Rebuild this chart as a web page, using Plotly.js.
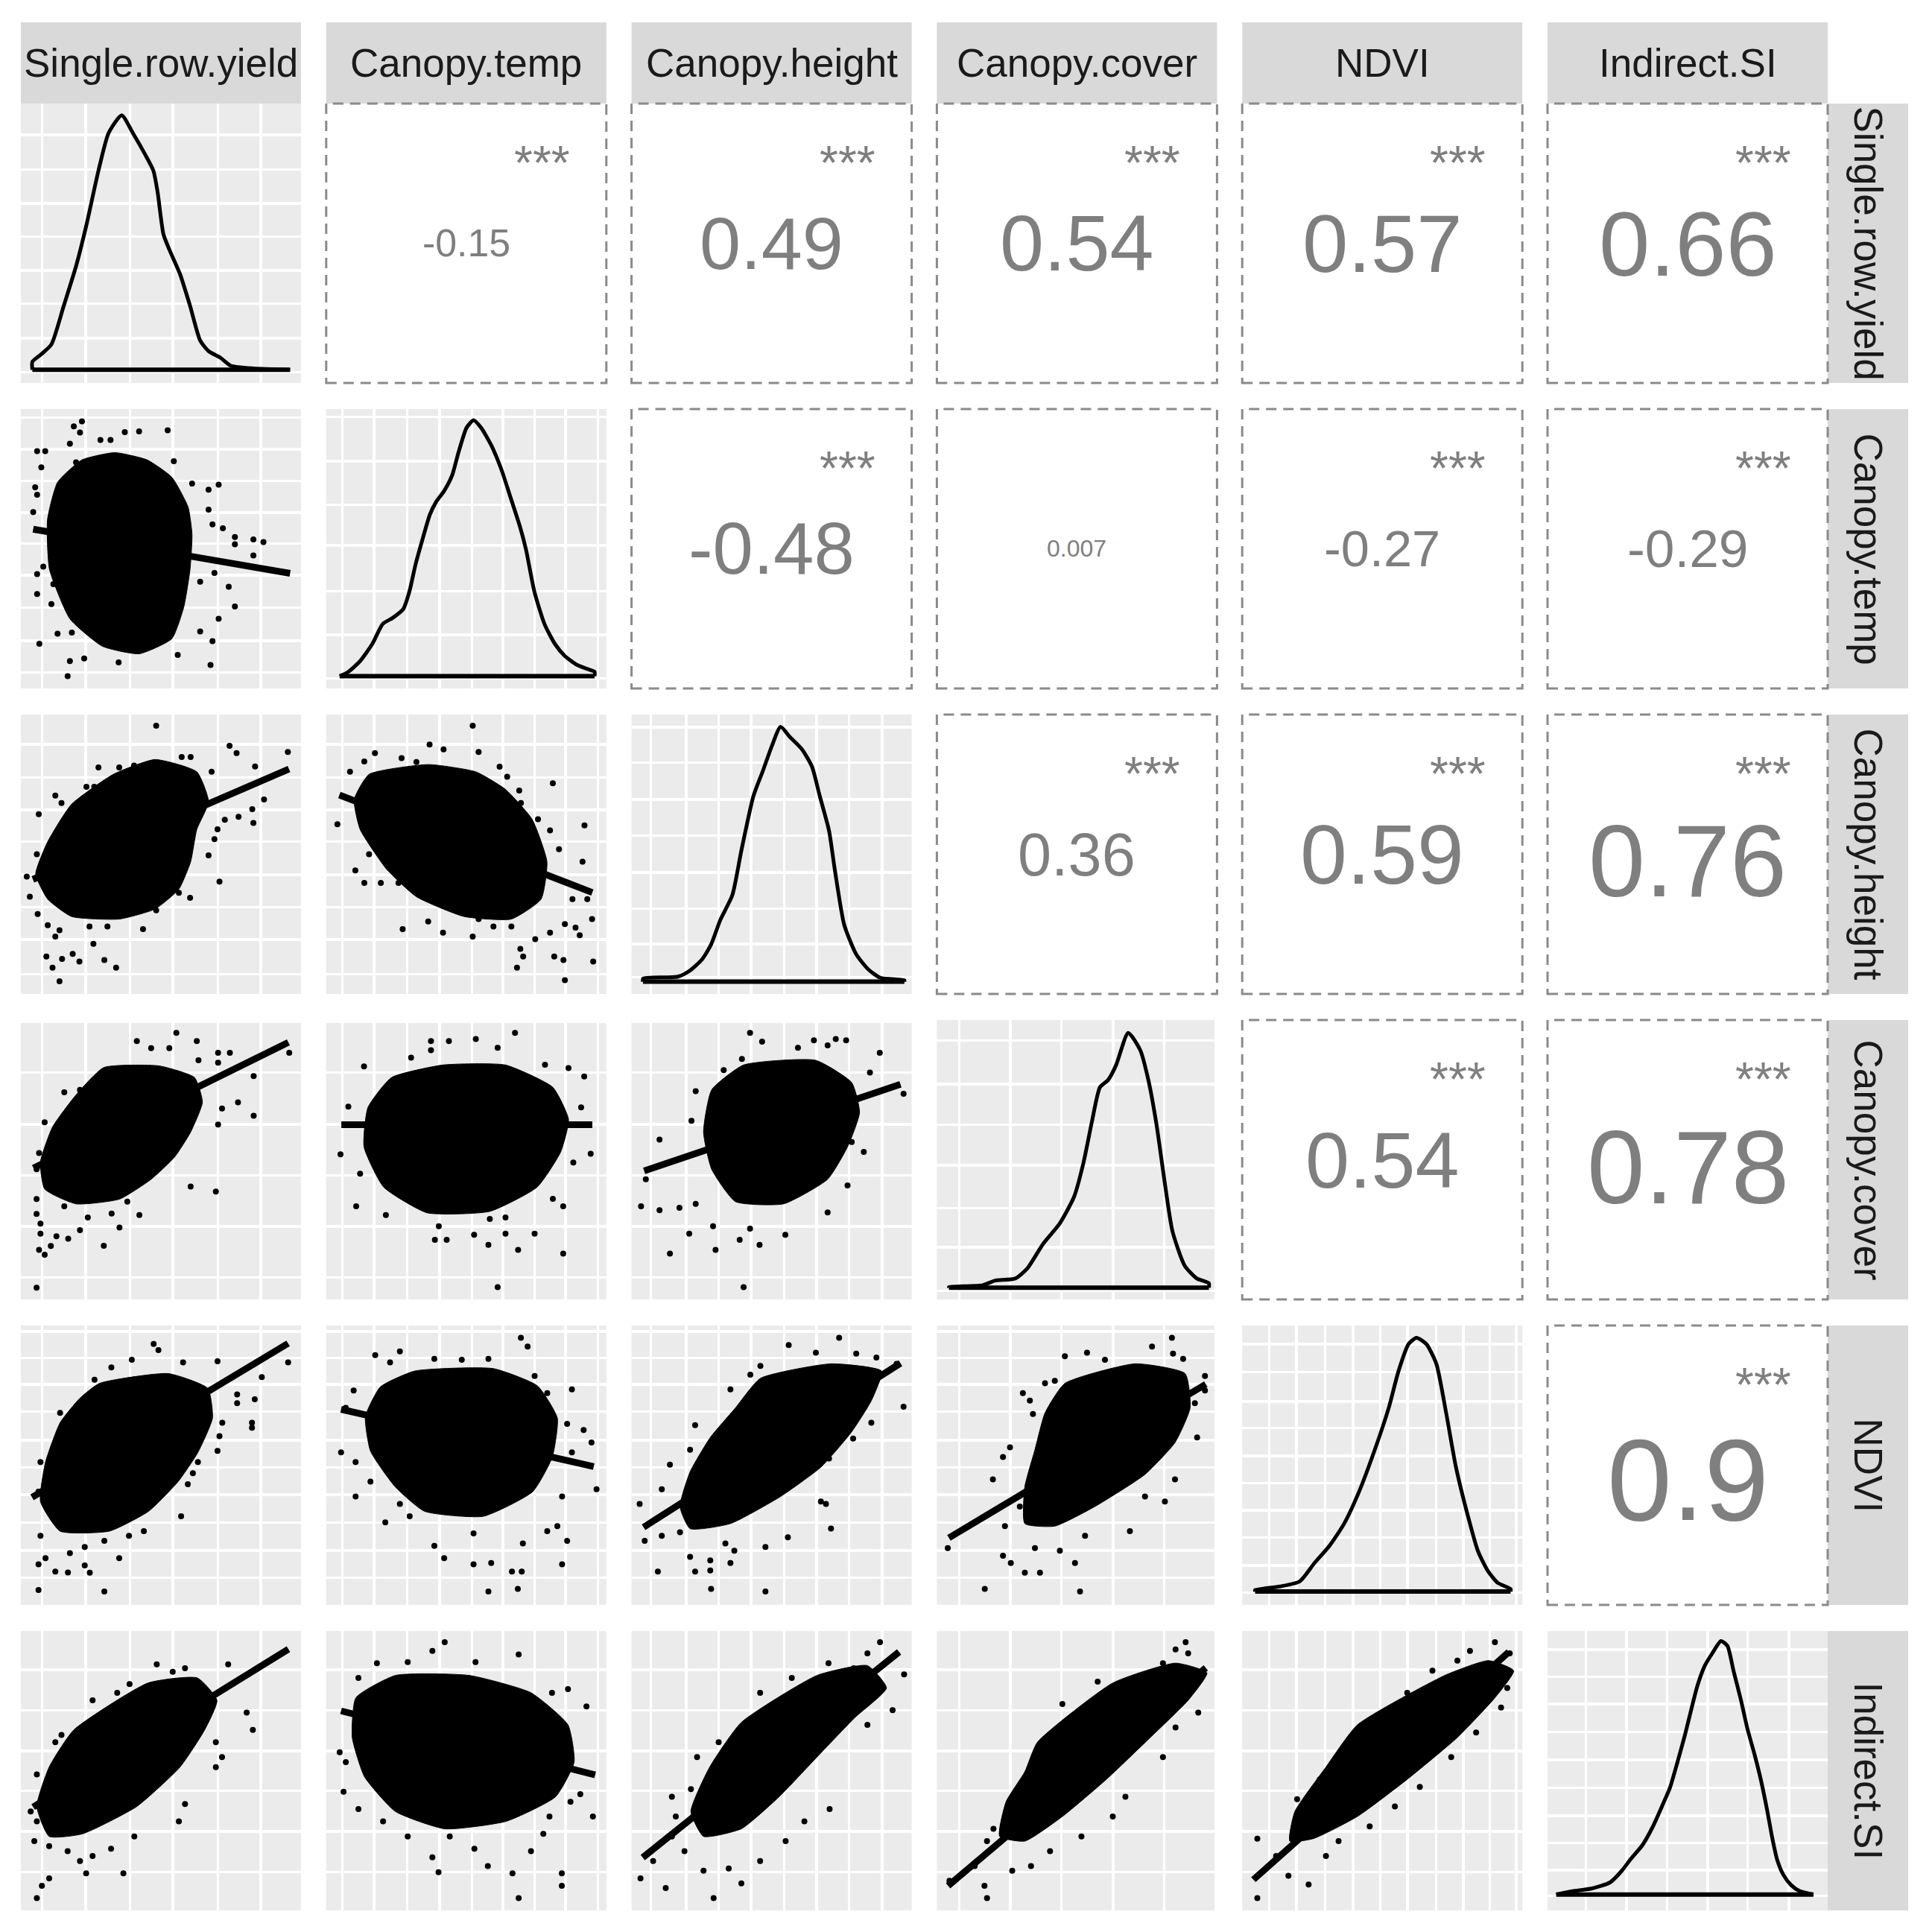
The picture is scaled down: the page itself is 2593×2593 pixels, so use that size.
<!DOCTYPE html>
<html>
<head>
<meta charset="utf-8">
<script src="https://cdn.plot.ly/plotly-3.0.1.min.js"></script>
<style>
  html, body { margin: 0; padding: 0; background: #fff; }
  #pairs { width: 2593px; height: 2593px; }
</style>
</head>
<body>
<div id="pairs"></div>
<script>
// variable names, in matrix order
var varNames = ['Single.row.yield', 'Canopy.temp', 'Canopy.height', 'Canopy.cover', 'NDVI', 'Indirect.SI'];

// upper triangle: correlation labels, row by row
var corrRow = [0, 0, 0, 0, 0, 1, 1, 1, 1, 2, 2, 2, 3, 3, 4];
var corrCol = [1, 2, 3, 4, 5, 2, 3, 4, 5, 3, 4, 5, 4, 5, 5];
var corrVal = [-0.15, 0.49, 0.54, 0.57, 0.66, -0.48, 0.007, -0.27, -0.29, 0.36, 0.59, 0.76, 0.54, 0.78, 0.9];
var corrStars = ['***', '***', '***', '***', '***', '***', '', '***', '***', '***', '***', '***', '***', '***', '***'];

// grid breaks of each variable (percent of panel width / height)
var gridYield = [7.5, 23.1, 38.9, 54.2, 70.3, 85.6];
var gridTemp = [5.8, 17.2, 29, 40.5, 52, 63, 74.4, 85.5, 96.9];
var gridHeight = [7, 19.4, 31, 42.6, 54.5, 66, 77.6, 89.4];
var gridCover = [7.9, 26.2, 44.5, 62.8, 81.2, 99.5];
var gridNdvi = [9.7, 19.4, 29.5, 39.6, 49.3, 59.0, 69.2, 78.9, 88.5, 97.8];
var gridSi = [13.7, 28.2, 42.7, 57.1, 71.5, 86.2];

// density panels: y grid breaks
var dgridYield = [3.8, 15.9, 28.4, 40.3, 52.5, 64.4, 76.3, 88.9];
var dgridTemp = [3.6, 19.1, 34.7, 51.1, 65.8, 81.3, 97.1];
var dgridHeight = [6, 18, 30.6, 43.4, 56.6, 69.5, 82.7, 95.6];
var dgridCover = [3.1, 18.6, 32.8, 47.9, 62.5, 77, 92.7];
var dgridNdvi = [4.4, 14.1, 24.2, 33.9, 43.6, 53.3, 63.4, 72.7, 83.3, 93.4];
var dgridSi = [5.1, 14.4, 24.2, 34.0, 43.9, 53.8, 63.9, 73.8, 83.5, 93.3];

// density curves
var densYieldX = [4.1, 4.1, 7.3, 10.9, 15.3, 19.7, 23.3, 27.7, 31.3, 36.0, 40.0, 44.4, 47.3, 48.8, 50.9, 53.1, 56.8, 60.4, 64.0, 67.0, 71.3, 74.9, 83.0, 96.1];
var densYieldY = [4.75, 7.6, 10.3, 13.8, 27.6, 41.8, 56.1, 76.0, 89.4, 95.8, 89.4, 81.7, 76.0, 68.4, 53.2, 47.5, 39.0, 27.6, 15.2, 11.4, 9.0, 6.2, 5.2, 4.75];
var densTempX = [4.8, 7.7, 12.1, 16.5, 20.2, 23.8, 27.5, 29.7, 31.9, 34.1, 37.0, 39.2, 42.1, 45.0, 47.2, 50.1, 52.6, 55.3, 58.9, 62.6, 65.5, 69.2, 71.3, 74.3, 77.9, 81.6, 85.2, 89.6, 94.0, 95.8, 95.8];
var densTempY = [4.4, 5.8, 9.8, 16.0, 23.1, 25.3, 28.4, 34.7, 44.4, 52.4, 62.2, 66.7, 70.7, 76.4, 84.4, 93.3, 96.0, 93.3, 87.1, 78.2, 69.3, 57.8, 49.8, 34.7, 23.1, 16.0, 11.6, 8.4, 6.7, 6.0, 4.4];
var densHeightX = [4.1, 4.1, 16.6, 20.9, 25.2, 28.4, 31.7, 36.0, 39.2, 43.5, 46.8, 50.0, 53.2, 56.5, 60.8, 64.4, 67.2, 70.5, 72.6, 75.9, 80.2, 84.5, 88.8, 97.4, 97.4];
var densHeightY = [4.4, 5.5, 6.2, 8.4, 12.4, 17.7, 26.5, 35.4, 51.3, 70.8, 79.6, 88.5, 95.6, 92.0, 87.6, 81.4, 70.8, 58.4, 44.2, 24.8, 14.2, 8.8, 5.8, 4.9, 4.4];
var densCoverX = [4.3, 4.3, 16.4, 20.7, 28.0, 32.3, 38.0, 43.8, 49.0, 52.4, 55.3, 58.2, 61.1, 64.0, 68.3, 72.6, 75.5, 78.4, 81.3, 84.1, 88.5, 92.8, 97.1, 97.1];
var densCoverY = [4.2, 4.4, 5.1, 6.7, 7.5, 11.1, 20.0, 27.1, 36.8, 49.2, 63.4, 75.9, 78.5, 83.9, 95.4, 89.2, 78.5, 62.6, 42.1, 24.4, 12.0, 7.5, 5.8, 4.2];
var densNdviX = [4.6, 4.6, 13.4, 20.5, 25.8, 31.1, 36.4, 41.7, 47.0, 52.3, 55.8, 59.4, 62.2, 65.7, 69.3, 72.8, 76.3, 80.6, 84.1, 87.6, 91.2, 95.8, 95.8];
var densNdviY = [4.8, 5.3, 6.6, 8.4, 15.0, 21.1, 29.1, 40.5, 54.6, 70.5, 83.7, 93.4, 95.6, 93.4, 86.3, 68.7, 49.3, 31.7, 19.4, 12.3, 7.9, 5.7, 4.8];
var densSiX = [3.1, 8.9, 15.6, 22.3, 26.7, 29.4, 33.9, 37.4, 41.0, 43.7, 46.3, 49.0, 51.2, 53.5, 56.1, 58.8, 61.9, 64.2, 66.4, 69.1, 71.3, 74.0, 76.2, 78.4, 80.2, 82.0, 84.2, 86.9, 90.0, 94.9];
var densSiY = [5.7, 6.9, 7.8, 10.0, 14.4, 18.0, 23.4, 29.6, 37.6, 43.9, 52.8, 62.6, 71.5, 80.4, 87.5, 92.0, 96.4, 94.7, 85.7, 75.0, 65.2, 55.4, 46.5, 35.8, 26.0, 18.0, 12.7, 9.1, 6.9, 5.7];

// scatter panels: dense core outline, stray points, fitted line (x,y pairs)
var s21Core = [33.5,84.4, 45.1,81.8, 53.9,75.6, 59.7,64.9, 61.1,55.1, 60.4,42.7, 58.2,29.3, 53.9,17.8, 42.2,12.4, 29.1,15.1, 17.5,24.9, 10.2,42.7, 9.5,60.4, 13.1,73.8, 21.8,81.8];
var s21Pts = [21.8,95.6, 18.9,93.8, 21.1,91.6, 17.5,87.6, 28.4,88.9, 32.0,88.9, 37.1,91.7, 42.2,92.0, 52.4,92.4, 5.8,84.9, 8.7,84.9, 7.3,79.1, 19.7,80.9, 54.6,81.3, 36.4,82.7, 61.1,73.3, 67.0,71.1, 70.6,72.9, 5.1,72.0, 4.4,63.1, 5.8,69.3, 67.0,64.0, 68.4,58.7, 72.1,57.3, 76.4,54.2, 83.0,53.3, 86.6,52.4, 76.4,51.6, 83.0,47.6, 69.1,41.3, 64.0,38.2, 74.2,36.4, 5.8,40.9, 8.0,43.6, 5.8,33.8, 11.6,37.3, 10.9,30.2, 76.4,29.3, 70.6,24.9, 64.0,20.4, 68.4,16.9, 67.7,8.4, 17.5,9.8, 22.6,10.7, 34.9,9.3, 56.0,12.0, 16.7,4.4, 6.6,16.0, 13.1,19.6, 18.2,20.0, 24.0,20.9];
var s21Fit = [4.4,57.0, 96.1,41.2];

var s31Core = [47.9,83.9, 62.8,79.5, 67.0,68.8, 62.8,58.9, 60.6,47.3, 56.4,37.5, 47.9,30.4, 35.1,26.8, 18.1,27.7, 9.6,33.9, 5.3,42.9, 9.6,54.5, 18.1,67.9, 33.0,78.6];
var s31Pts = [48.3,96.0, 74.5,88.8, 77.0,86.2, 95.3,86.6, 83.6,81.4, 68.1,79.5, 57.4,84.8, 60.6,84.8, 27.7,81.1, 35.1,81.1, 40.4,81.7, 23.4,74.1, 26.2,74.1, 12.3,71.0, 14.5,68.3, 6.4,64.3, 86.8,69.6, 82.6,66.1, 77.7,63.4, 83.0,61.2, 72.8,62.3, 70.2,58.9, 69.1,55.4, 67.0,49.6, 70.9,40.2, 60.4,34.4, 56.4,36.2, 48.3,29.9, 43.6,23.2, 30.9,24.1, 24.5,24.1, 13.8,22.8, 12.3,20.5, 9.6,24.6, 6.0,28.6, 5.7,50.0, 3.2,34.8, 9.1,13.4, 11.3,9.4, 14.7,12.5, 18.5,14.3, 20.9,11.6, 29.8,12.1, 34.0,9.4, 25.9,17.9, 13.8,4.5, 2.1,42.0];
var s31Fit = [4.3,41.0, 95.7,80.5];

var s32Core = [15.3,78.6, 36.4,82.1, 53.4,79.5, 64.0,73.2, 73.5,62.5, 78.8,47.3, 76.7,33.9, 66.1,26.8, 49.2,27.7, 32.2,34.8, 21.6,44.6, 12.1,58.9, 10.0,69.6];
var s32Pts = [52.3,96.0, 36.9,89.3, 41.9,87.5, 54.4,86.6, 17.4,86.2, 13.6,83.2, 8.5,79.5, 26.9,84.4, 32.2,83.0, 61.9,81.3, 64.6,77.7, 80.9,75.4, 68.9,72.8, 69.5,68.3, 75.6,62.5, 92.2,60.3, 79.9,58.5, 91.5,47.3, 83.1,51.8, 4.0,60.7, 10.4,44.2, 13.6,39.7, 19.5,39.7, 25.8,39.7, 15.3,50.0, 93.2,33.9, 87.9,33.9, 94.9,26.8, 85.2,25.0, 90.5,21.0, 89.0,23.7, 79.9,21.9, 74.6,19.6, 69.3,16.1, 68.1,9.4, 70.3,13.4, 81.4,13.4, 84.7,12.1, 95.3,11.6, 85.2,4.9, 52.3,20.5, 41.7,21.9, 27.3,23.2, 36.4,25.9, 54.4,26.8, 59.7,24.1, 66.1,24.1];
var s32Fit = [4.7,71.2, 95.0,36.3];

var s41Core = [29.6,83.0, 49.3,83.6, 62.0,79.4, 64.8,70.6, 60.6,59.9, 54.9,51.0, 46.5,43.0, 35.2,35.9, 19.7,34.2, 8.5,39.5, 7.0,49.2, 11.3,61.7, 19.7,73.2];
var s41Pts = [55.5,95.4, 41.4,92.5, 53.0,89.9, 62.8,92.5, 46.5,89.9, 70.4,88.3, 74.6,88.3, 63.4,85.6, 70.4,84.7, 83.1,79.9, 95.8,88.3, 77.5,70.5, 83.1,65.7, 71.8,68.3, 70.4,62.6, 60.6,40.4, 69.6,38.6, 15.5,74.1, 21.1,75.0, 8.5,63.4, 6.5,52.4, 5.6,46.6, 5.6,35.9, 5.6,30.6, 7.0,27.1, 7.0,23.5, 12.7,22.6, 16.9,21.7, 21.1,24.8, 29.6,19.2, 35.2,25.7, 23.9,29.3, 42.3,30.2, 32.4,30.7, 6.5,17.7, 8.5,16.0, 5.6,4.2, 10.7,19.1, 15.5,33.3, 38.0,35.0];
var s41Fit = [4.5,47.0, 95.5,92.0];

var s42Core = [41.6,83.9, 64.0,83.9, 80.9,75.9, 86.5,64.4, 83.7,52.8, 75.3,40.2, 58.4,31.5, 36.0,31.0, 20.5,40.2, 13.5,54.6, 14.9,68.7, 23.3,79.4];
var s42Pts = [67.4,95.4, 37.4,92.5, 43.8,92.5, 53.4,93.2, 61.2,90.1, 37.4,89.2, 30.3,86.5, 78.1,84.0, 86.5,82.8, 92.1,79.8, 13.5,83.4, 7.9,69.0, 5.1,51.9, 94.4,52.1, 91.0,68.7, 88.2,49.0, 84.6,33.3, 84.6,16.4, 68.5,17.7, 57.9,19.5, 38.8,21.3, 43.0,21.3, 52.8,23.1, 64.0,23.5, 74.4,23.5, 40.2,26.2, 10.7,33.3, 21.3,30.2, 33.1,34.2, 58.4,28.8, 64.0,29.3, 80.9,36.0, 12.1,45.0, 61.2,4.4];
var s42Fit = [5.4,62.5, 95.0,62.5];

var s43Core = [40.0,83.9, 65.7,85.6, 78.6,77.6, 81.4,66.9, 77.1,54.6, 70.0,43.0, 54.3,34.2, 37.1,35.0, 28.6,46.6, 25.7,59.9, 28.6,75.0];
var s43Pts = [42.3,95.4, 46.6,92.3, 65.1,92.7, 72.9,93.2, 76.6,92.7, 59.4,90.1, 70.0,90.9, 39.4,86.1, 32.9,82.1, 88.6,88.3, 85.1,81.2, 22.9,74.5, 21.4,63.9, 10.0,57.2, 5.1,43.0, 3.4,33.3, 10.0,31.9, 17.1,32.8, 22.9,34.2, 29.1,26.2, 20.6,23.5, 30.0,17.7, 38.6,21.3, 45.7,19.5, 42.3,25.3, 54.9,23.1, 70.0,31.1, 77.1,40.8, 82.9,52.8, 97.1,73.6, 13.7,16.4, 40.0,4.4, 78.6,56.3];
var s43Fit = [4.5,46.0, 96.0,77.0];

var s51Core = [28.1,79.3, 52.6,82.8, 66.7,77.5, 68.4,66.9, 63.2,54.6, 56.1,44.1, 45.6,33.5, 31.6,26.4, 14.0,26.4, 7.0,37.0, 8.8,51.1, 14.0,65.2, 21.1,74.0];
var s51Pts = [47.4,93.4, 49.1,91.2, 39.6,87.7, 32.3,85.0, 57.9,86.8, 70.2,87.2, 95.4,86.8, 86.0,81.5, 26.3,80.6, 77.2,75.3, 83.5,73.6, 77.2,72.2, 14.0,68.7, 71.9,65.2, 82.5,65.2, 82.5,63.4, 70.9,60.4, 70.2,55.1, 63.2,51.1, 61.4,47.1, 59.6,43.2, 7.0,51.1, 6.3,40.5, 57.2,31.7, 43.9,26.4, 38.6,24.7, 29.8,22.9, 22.8,20.7, 17.5,18.5, 8.8,16.7, 6.3,14.5, 12.3,11.9, 16.8,11.6, 24.6,11.5, 22.8,14.1, 35.1,16.7, 6.3,5.3, 29.8,4.8, 7.0,24.7];
var s51Fit = [4.0,38.5, 95.4,93.6];

var s52Core = [31.6,83.7, 59.6,84.6, 75.4,78.4, 82.5,66.9, 80.7,52.9, 73.7,40.5, 56.1,31.7, 35.1,33.5, 24.6,42.3, 15.8,55.1, 14.0,67.4, 19.3,78.0];
var s52Pts = [69.5,95.6, 71.9,92.5, 26.3,90.7, 17.5,89.4, 22.8,86.8, 38.6,88.1, 48.4,87.7, 57.9,88.1, 74.4,81.9, 87.7,77.1, 9.8,76.7, 7.0,70.5, 78.9,75.8, 86.0,64.8, 91.9,62.6, 94.7,58.1, 87.7,54.6, 96.5,41.4, 84.2,38.8, 5.3,54.6, 10.5,51.1, 15.8,44.1, 10.5,38.8, 21.1,29.5, 26.3,36.1, 29.8,31.7, 38.6,21.1, 42.1,16.7, 52.6,14.5, 58.9,15.0, 66.3,11.9, 69.8,11.9, 84.2,14.5, 86.0,22.9, 70.2,22.0, 78.9,26.4, 57.9,4.8, 68.4,5.7, 82.5,28.2, 52.6,25.6];
var s52Fit = [5.3,70.0, 95.5,49.5];

var s53Core = [46.0,81.1, 71.2,86.3, 89.2,83.7, 85.6,73.1, 78.4,61.7, 67.6,49.3, 53.2,38.8, 35.3,29.1, 20.9,27.3, 17.3,35.2, 20.9,47.6, 28.1,59.9, 37.1,70.5];
var s53Pts = [74.1,95.6, 56.1,93.0, 65.8,90.3, 80.2,89.9, 87.4,88.5, 94.6,86.3, 46.0,85.5, 42.4,82.4, 35.3,77.1, 97.1,70.9, 85.6,65.2, 79.1,59.5, 22.7,64.3, 20.9,55.5, 13.7,50.2, 10.8,41.4, 70.5,52.4, 67.6,37.0, 69.4,36.1, 71.2,27.3, 55.8,24.2, 47.8,20.7, 36.7,19.4, 33.5,22.0, 17.3,26.0, 10.8,24.7, 4.7,22.9, 20.9,17.2, 28.1,15.9, 35.3,15.0, 9.4,11.9, 22.7,11.9, 28.1,12.3, 28.4,5.7, 47.8,4.8, 2.9,36.1];
var s53Fit = [4.3,27.8, 96.0,86.5];

var s54Core = [45.7,79.3, 70.7,86.3, 88.6,82.8, 90.4,70.5, 85.0,58.1, 74.3,46.7, 56.4,35.2, 42.1,28.2, 31.4,29.1, 31.4,42.3, 35.0,55.5, 38.6,68.7];
var s54Pts = [83.9,95.6, 76.8,92.5, 53.6,90.3, 84.3,89.9, 87.9,88.1, 45.7,89.0, 60.0,87.7, 38.6,79.3, 30.7,75.8, 33.2,73.1, 42.1,80.2, 95.7,81.9, 95.7,76.7, 92.1,72.2, 92.9,59.9, 34.3,68.3, 26.1,56.4, 23.6,52.9, 20.0,44.9, 29.6,35.2, 74.3,38.8, 85.0,44.9, 81.4,37.0, 68.9,26.4, 52.9,24.7, 43.9,19.4, 35.0,20.3, 23.6,17.6, 26.4,15.0, 31.4,11.5, 36.8,11.5, 49.3,15.0, 17.1,5.7, 51.1,4.8, 3.9,20.3, 24.3,28.2];
var s54Fit = [4.3,24.0, 96.0,79.0];

var s61Core = [18.9,64.6, 45.4,81.4, 63.0,83.2, 70.0,75.2, 65.6,64.6, 56.8,51.3, 41.4,37.2, 22.0,27.4, 10.1,26.5, 5.7,37.2, 10.1,51.3];
var s61Pts = [48.5,88.1, 54.2,85.4, 74.0,88.1, 58.6,86.7, 38.8,81.0, 34.4,77.9, 25.6,75.2, 80.6,70.8, 82.8,64.6, 69.6,60.2, 71.8,54.9, 69.6,51.3, 58.6,38.1, 56.4,31.9, 14.5,62.8, 12.3,60.2, 5.7,48.7, 3.5,35.4, 5.7,31.9, 4.8,24.8, 10.1,23.0, 16.7,21.2, 21.1,17.7, 25.6,19.5, 36.6,13.3, 23.3,13.3, 10.1,11.5, 7.5,8.8, 5.7,4.4, 32.2,22.1, 40.5,26.5];
var s61Fit = [4.4,37.0, 95.5,93.5];

var s62Core = [24.7,84.1, 51.1,84.1, 73.1,77.9, 86.3,66.4, 88.5,53.1, 81.9,40.7, 64.3,31.9, 42.3,29.2, 24.7,35.4, 13.7,47.8, 9.3,61.9, 10.6,76.1];
var s62Pts = [42.3,96.0, 37.9,92.9, 68.7,91.6, 18.1,88.5, 29.1,88.9, 53.3,88.9, 11.5,83.2, 15.9,78.3, 86.3,79.2, 92.9,73.0, 80.6,77.9, 4.8,56.6, 7.0,53.1, 6.2,42.5, 11.5,36.3, 20.3,31.9, 90.7,41.6, 95.2,33.6, 87.2,38.9, 79.7,33.6, 77.5,27.4, 73.1,21.2, 66.5,13.3, 68.7,4.4, 84.1,8.8, 84.1,13.3, 37.9,19.0, 40.1,13.7, 57.7,15.9, 52.9,22.1, 44.1,26.5, 29.1,26.5];
var s62Fit = [5.3,71.4, 96.0,48.5];

var s63Core = [39.2,67.3, 66.2,84.1, 84.2,87.6, 91.0,79.6, 79.7,69.0, 66.2,54.9, 52.7,40.7, 39.2,29.2, 25.7,26.5, 21.2,35.4, 27.9,51.3];
var s63Pts = [88.7,96.0, 84.2,92.0, 70.3,88.5, 79.3,86.7, 57.2,83.2, 45.9,77.9, 97.3,84.5, 93.2,71.7, 84.2,66.4, 31.1,60.2, 23.4,54.9, 21.2,43.4, 14.4,40.7, 15.8,33.6, 70.7,36.3, 61.7,31.9, 55.0,24.8, 45.9,17.7, 34.7,15.0, 25.7,14.2, 39.2,9.7, 12.2,8.0, 3.2,11.5, 29.3,4.4, 7.7,17.7, 18.9,21.2, 14.4,26.5];
var s63Fit = [4.0,18.9, 95.5,92.5];

var s64Core = [35.9,60.2, 62.8,81.4, 85.2,88.5, 96.4,85.0, 89.7,75.2, 76.2,61.9, 60.5,46.9, 44.8,33.6, 31.4,24.8, 22.4,26.5, 24.7,38.9, 31.4,49.6];
var s64Pts = [88.8,96.0, 85.2,93.4, 89.7,92.0, 80.7,88.5, 57.4,81.9, 44.8,73.9, 45.7,66.8, 40.4,60.2, 38.1,52.2, 34.5,46.9, 26.9,38.1, 20.2,29.2, 17.9,24.8, 13.5,15.9, 17.0,8.8, 17.9,4.4, 26.9,14.2, 33.6,15.9, 40.4,21.2, 51.6,26.5, 62.8,33.6, 67.3,40.7, 80.7,54.9, 85.2,65.5, 93.3,70.8, 4.5,10.6];
var s64Fit = [4.0,8.8, 96.0,86.8];

var s65Core = [41.1,66.4, 72.3,84.1, 87.9,89.4, 96.9,85.8, 90.2,76.1, 76.8,61.9, 58.9,46.9, 41.1,33.6, 25.4,25.7, 17.0,24.8, 18.8,35.4, 29.9,51.3];
var s65Pts = [90.2,96.0, 81.3,92.9, 95.5,92.0, 76.8,89.4, 67.9,85.8, 58.9,77.9, 47.8,66.4, 43.3,57.5, 34.4,53.1, 27.7,46.9, 19.6,39.8, 5.4,25.7, 12.1,19.5, 16.5,12.4, 23.7,9.3, 5.4,4.4, 29.9,19.5, 34.4,24.8, 45.5,30.1, 54.5,37.2, 63.4,44.2, 74.6,54.9, 83.5,63.7, 92.4,72.6, 94.6,79.6];
var s65Fit = [4.0,11.0, 95.2,92.5];

// ---------------------------------------------------------------------------

var SIZE = 2593;
var PW = 376, PH = 375;
var FONT = 'Liberation Sans, Arial, sans-serif';

function colLeft(c) { return 28 + 409.8 * c; }
function rowTop(r) { return 139 + 410 * r; }
function px(x) { return x / SIZE; }
function py(y) { return 1 - y / SIZE; }

function splitPairs(a) {
    var o = { x: [], y: [] };
    for (var i = 0; i < a.length; i += 2) { o.x.push(a[i]); o.y.push(a[i + 1]); }
    return o;
}

var varGrid = [gridYield, gridTemp, gridHeight, gridCover, gridNdvi, gridSi];
var diagGrid = [dgridYield, dgridTemp, dgridHeight, dgridCover, dgridNdvi, dgridSi];
var densX = [densYieldX, densTempX, densHeightX, densCoverX, densNdviX, densSiX];
var densY = [densYieldY, densTempY, densHeightY, densCoverY, densNdviY, densSiY];

var scatterPanels = [
    [1, 0, s21Core, s21Pts, s21Fit],
    [2, 0, s31Core, s31Pts, s31Fit], [2, 1, s32Core, s32Pts, s32Fit],
    [3, 0, s41Core, s41Pts, s41Fit], [3, 1, s42Core, s42Pts, s42Fit], [3, 2, s43Core, s43Pts, s43Fit],
    [4, 0, s51Core, s51Pts, s51Fit], [4, 1, s52Core, s52Pts, s52Fit], [4, 2, s53Core, s53Pts, s53Fit], [4, 3, s54Core, s54Pts, s54Fit],
    [5, 0, s61Core, s61Pts, s61Fit], [5, 1, s62Core, s62Pts, s62Fit], [5, 2, s63Core, s63Pts, s63Fit], [5, 3, s64Core, s64Pts, s64Fit], [5, 4, s65Core, s65Pts, s65Fit]
];

var layout = {
    width: SIZE,
    height: SIZE,
    margin: { l: 0, r: 0, t: 0, b: 0 },
    paper_bgcolor: '#ffffff',
    plot_bgcolor: '#EBEBEB',
    showlegend: false,
    font: { family: FONT },
    shapes: [],
    annotations: []
};
var data = [];

function axisName(r, c) { var n = r * 6 + c + 1; return n === 1 ? '' : String(n); }

function makeAxis(breaks, domain, anchor) {
    var major = breaks.filter(function (v, i) { return i % 2 === 1; });
    var minor = breaks.filter(function (v, i) { return i % 2 === 0; });
    return {
        domain: domain, anchor: anchor, range: [0, 100], fixedrange: true,
        showticklabels: false, ticks: '', zeroline: false, showline: false,
        tickmode: 'array', tickvals: major, showgrid: true, gridcolor: '#ffffff', gridwidth: 4,
        minor: { tickmode: 'array', tickvals: minor, showgrid: true, gridcolor: '#ffffff', gridwidth: 3, ticks: '' }
    };
}

function addPanelAxes(r, c, ybreaks) {
    var n = axisName(r, c);
    var xd = [px(colLeft(c)), px(colLeft(c) + PW)];
    var yd = [py(rowTop(r) + PH), py(rowTop(r))];
    layout['xaxis' + n] = makeAxis(varGrid[c], xd, 'y' + n);
    layout['yaxis' + n] = makeAxis(ybreaks, yd, 'x' + n);
    return { x: 'x' + n, y: 'y' + n };
}

// diagonal: densities
for (var d = 0; d < 6; d++) {
    var ax = addPanelAxes(d, d, diagGrid[d]);
    var xs = densX[d], ys = densY[d];
    data.push({
        type: 'scatter', mode: 'lines', x: xs, y: ys, xaxis: ax.x, yaxis: ax.y,
        line: { color: '#000000', width: 5, shape: 'spline', smoothing: 0.6 }, hoverinfo: 'skip'
    });
    data.push({
        type: 'scatter', mode: 'lines', x: [xs[0], xs[xs.length - 1]], y: [ys[0], ys[0]],
        xaxis: ax.x, yaxis: ax.y, line: { color: '#000000', width: 6 }, hoverinfo: 'skip'
    });
}

// lower triangle: scatter clouds with fitted lines
scatterPanels.forEach(function (p) {
    var ax = addPanelAxes(p[0], p[1], varGrid[p[0]]);
    var core = splitPairs(p[2]);
    var pts = splitPairs(p[3]);
    var fit = splitPairs(p[4]);
    core.x.push(core.x[0]); core.y.push(core.y[0]);
    data.push({
        type: 'scatter', mode: 'lines', x: core.x, y: core.y, xaxis: ax.x, yaxis: ax.y,
        fill: 'toself', fillcolor: '#000000', line: { color: '#000000', width: 1, shape: 'spline', smoothing: 0.5 },
        hoverinfo: 'skip'
    });
    data.push({
        type: 'scatter', mode: 'markers', x: pts.x, y: pts.y, xaxis: ax.x, yaxis: ax.y,
        marker: { color: '#000000', size: 8 }, hoverinfo: 'skip'
    });
    data.push({
        type: 'scatter', mode: 'lines', x: fit.x, y: fit.y, xaxis: ax.x, yaxis: ax.y,
        line: { color: '#000000', width: 9 }, hoverinfo: 'skip'
    });
});

// upper triangle: dashed boxes with correlations
var STAR_SIZE = 64;
function boxHalf(size) { return (1.117 * size + 2) / 2; }
corrVal.forEach(function (v, i) {
    var x0 = colLeft(corrCol[i]), y0 = rowTop(corrRow[i]);
    var numSize = 31 + 139 * Math.abs(v);
    var starY = y0 + PH * 0.235 - 8;
    // keep the number's text box clear of the stars' box
    var numY = Math.max(y0 + PH / 2, starY + boxHalf(STAR_SIZE) + boxHalf(numSize) + 2);
    layout.shapes.push({
        type: 'rect', xref: 'paper', yref: 'paper',
        x0: px(x0), x1: px(x0 + PW), y0: py(y0 + PH), y1: py(y0),
        fillcolor: '#ffffff', line: { color: '#8a8a8a', width: 3, dash: '14px,9px' }
    });
    layout.annotations.push({
        xref: 'paper', yref: 'paper', x: px(x0 + PW / 2), y: py(numY),
        xanchor: 'center', yanchor: 'middle', showarrow: false, text: String(v),
        font: { family: FONT, size: numSize, color: '#7F7F7F' }
    });
    if (corrStars[i]) {
        layout.annotations.push({
            xref: 'paper', yref: 'paper', x: px(x0 + PW * 0.77), y: py(starY),
            xanchor: 'center', yanchor: 'middle', showarrow: false, text: corrStars[i],
            font: { family: FONT, size: STAR_SIZE, color: '#7F7F7F' }
        });
    }
});

// facet strips
varNames.forEach(function (name, i) {
    var x0 = colLeft(i), y0 = rowTop(i);
    layout.shapes.push({
        type: 'rect', xref: 'paper', yref: 'paper', layer: 'below',
        x0: px(x0), x1: px(x0 + PW), y0: py(139), y1: py(30),
        fillcolor: '#D9D9D9', line: { width: 0 }
    });
    layout.annotations.push({
        xref: 'paper', yref: 'paper', x: px(x0 + PW / 2), y: py(84.5),
        xanchor: 'center', yanchor: 'middle', showarrow: false, text: name,
        font: { family: FONT, size: 53, color: '#1A1A1A' }
    });
    layout.shapes.push({
        type: 'rect', xref: 'paper', yref: 'paper', layer: 'below',
        x0: px(2453), x1: px(2561), y0: py(y0 + PH), y1: py(y0),
        fillcolor: '#D9D9D9', line: { width: 0 }
    });
    layout.annotations.push({
        xref: 'paper', yref: 'paper', x: px(2507), y: py(y0 + PH / 2),
        xanchor: 'center', yanchor: 'middle', showarrow: false, text: name, textangle: 90,
        font: { family: FONT, size: 53, color: '#1A1A1A' }
    });
});

Plotly.newPlot('pairs', data, layout, { staticPlot: true, displayModeBar: false });
</script>
</body>
</html>
